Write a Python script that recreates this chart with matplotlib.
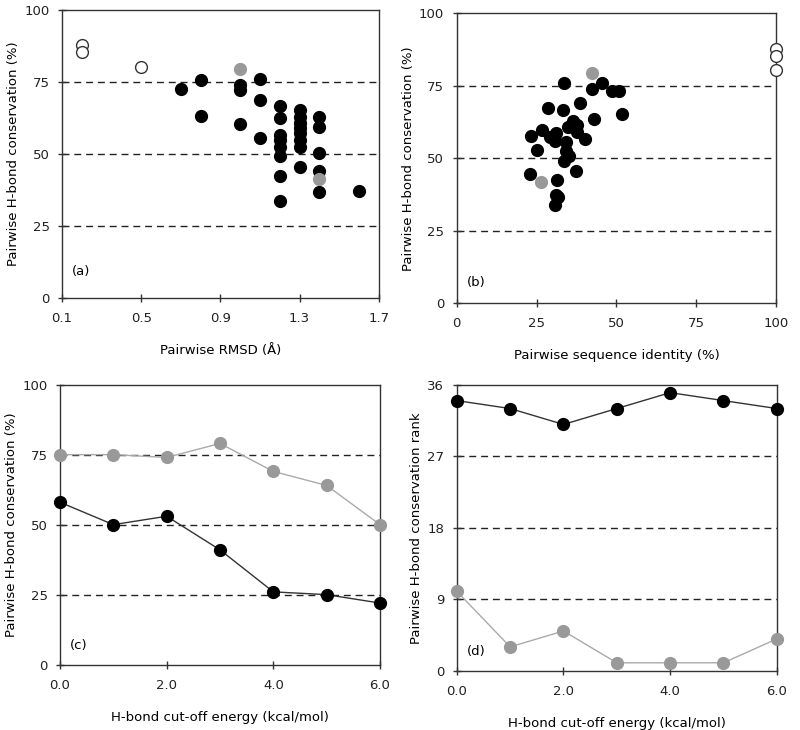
import matplotlib.pyplot as plt

# panel (a): pairwise RMSD vs conservation
rmsd_black = [0.7, 0.8, 0.8, 1.0, 1.0, 1.0, 1.1, 1.1, 1.1,
              1.2, 1.2, 1.2, 1.2, 1.2, 1.2, 1.2, 1.2,
              1.3, 1.3, 1.3, 1.3, 1.3, 1.3, 1.3, 1.3,
              1.4, 1.4, 1.4, 1.4, 1.4, 1.6]
cons_black_a = [72.5, 75.6, 63.1, 73.8, 72.1, 60.4, 76.1, 68.7, 55.5,
                66.6, 62.3, 56.6, 54.8, 52.5, 49.1, 42.4, 33.6,
                65.2, 62.9, 60.6, 58.9, 57.2, 54.8, 52.5, 45.4,
                62.9, 59.2, 50.3, 44.2, 36.6, 37.1]
rmsd_gray = [1.0, 1.4]
cons_gray_a = [79.3, 41.3]
rmsd_open = [0.2, 0.2, 0.5]
cons_open_a = [87.7, 85.2, 80.2]

# panel (b): sequence identity vs conservation
ident_black = [33.6, 42.5, 45.6, 48.5, 50.8, 51.7, 38.6, 28.5, 33.4, 43.1,
               36.3, 37.6, 34.8, 37.6, 26.6, 23.2, 29.2, 31.1, 30.8, 34.2,
               40.2, 25.1, 34.2, 35.3, 33.7, 37.4, 22.8, 31.3, 31.1, 31.8, 30.8]
cons_black_b = [76.0, 73.9, 76.0, 73.1, 73.1, 65.3, 68.9, 67.2, 66.5, 63.7,
                62.8, 61.6, 60.7, 59.0, 59.7, 57.8, 57.4, 58.8, 55.9, 55.5,
                56.5, 52.8, 52.4, 50.7, 48.9, 45.5, 44.4, 42.6, 37.4, 36.6, 33.8]
ident_gray = [42.5, 26.3]
cons_gray_b = [79.3, 41.7]
ident_open = [100, 100, 100]
cons_open_b = [87.8, 85.4, 80.6]

# panels (c) and (d): cut-off energy
energy = [0, 1, 2, 3, 4, 5, 6]
cons_black_c = [58, 50, 53, 41, 26, 25, 22]
cons_gray_c = [75, 75, 74, 79, 69, 64, 50]
rank_black = [34, 33, 31, 33, 35, 34, 33]
rank_gray = [10, 3, 5, 1, 1, 1, 4]

plt.rcParams['font.family'] = 'DejaVu Sans'
plt.rcParams['font.size'] = 9.5

fig = plt.figure(figsize=(8, 7.3), dpi=100)
ax_a = fig.add_axes([0.0775, 0.592, 0.396, 0.3945])
ax_b = fig.add_axes([0.571, 0.585, 0.399, 0.3966])
ax_c = fig.add_axes([0.075, 0.0895, 0.4, 0.3836])
ax_d = fig.add_axes([0.571, 0.0812, 0.4, 0.3918])

GRAY = '#999999'
MS = 8.5


def style(ax, grid):
    for y in grid:
        ax.axhline(y, color='#222222', lw=1, ls=(0, (5, 3.5)), zorder=1)
    for s in ax.spines.values():
        s.set_color('#333333')
        s.set_linewidth(1)
    ax.tick_params(direction='inout', length=6, width=1, color='#333333',
                   labelcolor='#222222')
    ax.tick_params(axis='x', pad=7)
    ax.tick_params(axis='y', pad=6)


# (a)
style(ax_a, [25, 50, 75])
ax_a.plot(rmsd_black, cons_black_a, 'o', color='black', ms=MS, zorder=3)
ax_a.plot(rmsd_gray, cons_gray_a, 'o', color=GRAY, ms=MS, zorder=4)
ax_a.plot(rmsd_open, cons_open_a, 'o', mfc='white', mec='#333333', mew=1,
          ms=MS, zorder=4)
ax_a.set_xlim(0.1, 1.7)
ax_a.set_ylim(0, 100)
ax_a.set_xticks([0.1, 0.5, 0.9, 1.3, 1.7])
ax_a.set_yticks([0, 25, 50, 75, 100])
ax_a.set_xlabel('Pairwise RMSD (Å)', labelpad=14)
ax_a.set_ylabel('Pairwise H-bond conservation (%)', labelpad=3)
ax_a.text(0.03, 0.09, '(a)', transform=ax_a.transAxes, va='center')

# (b)
style(ax_b, [25, 50, 75])
ax_b.plot(ident_black, cons_black_b, 'o', color='black', ms=MS, zorder=3)
ax_b.plot(ident_gray, cons_gray_b, 'o', color=GRAY, ms=MS, zorder=4)
ax_b.plot(ident_open, cons_open_b, 'o', mfc='white', mec='#333333', mew=1,
          ms=MS, zorder=4, clip_on=False)
ax_b.set_xlim(0, 100)
ax_b.set_ylim(0, 100)
ax_b.set_xticks([0, 25, 50, 75, 100])
ax_b.set_yticks([0, 25, 50, 75, 100])
ax_b.set_xlabel('Pairwise sequence identity (%)', labelpad=14)
ax_b.set_ylabel('Pairwise H-bond conservation (%)', labelpad=3)
ax_b.text(0.03, 0.07, '(b)', transform=ax_b.transAxes, va='center')

# (c)
style(ax_c, [25, 50, 75])
ax_c.plot(energy, cons_gray_c, '-o', color='#aaaaaa', mfc=GRAY, mec=GRAY,
          lw=1, ms=MS, zorder=3, clip_on=False)
ax_c.plot(energy, cons_black_c, '-o', color='#333333', mfc='black', mec='black',
          lw=1, ms=MS, zorder=4, clip_on=False)
ax_c.set_xlim(0, 6)
ax_c.set_ylim(0, 100)
ax_c.set_xticks([0, 2, 4, 6])
ax_c.set_xticklabels(['0.0', '2.0', '4.0', '6.0'])
ax_c.set_yticks([0, 25, 50, 75, 100])
ax_c.set_xlabel('H-bond cut-off energy (kcal/mol)', labelpad=14)
ax_c.set_ylabel('Pairwise H-bond conservation (%)', labelpad=3)
ax_c.text(0.03, 0.067, '(c)', transform=ax_c.transAxes, va='center')

# (d)
style(ax_d, [9, 18, 27])
ax_d.plot(energy, rank_gray, '-o', color='#aaaaaa', mfc=GRAY, mec=GRAY,
          lw=1, ms=MS, zorder=3, clip_on=False)
ax_d.plot(energy, rank_black, '-o', color='#333333', mfc='black', mec='black',
          lw=1, ms=MS, zorder=4, clip_on=False)
ax_d.set_xlim(0, 6)
ax_d.set_ylim(0, 36)
ax_d.set_xticks([0, 2, 4, 6])
ax_d.set_xticklabels(['0.0', '2.0', '4.0', '6.0'])
ax_d.set_yticks([0, 9, 18, 27, 36])
ax_d.set_xlabel('H-bond cut-off energy (kcal/mol)', labelpad=14)
ax_d.set_ylabel('Pairwise H-bond conservation rank', labelpad=3)
ax_d.text(0.03, 0.066, '(d)', transform=ax_d.transAxes, va='center')

fig.savefig('out.png', dpi=100)
